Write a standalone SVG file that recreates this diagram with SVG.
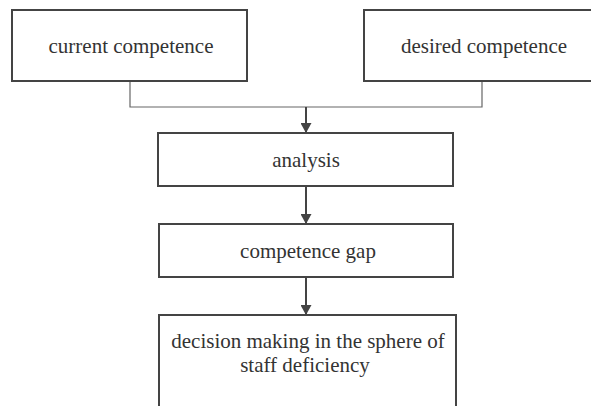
<svg xmlns="http://www.w3.org/2000/svg" width="591" height="406" viewBox="0 0 591 406">
<style>
.box{fill:#fff;stroke:#444;stroke-width:2}
.t{font-family:'Liberation Serif','DejaVu Serif',serif;font-size:21px;fill:#333;text-anchor:middle}
.thin{fill:none;stroke:#666;stroke-width:1.2}
.arr{fill:none;stroke:#444;stroke-width:2}
</style>
<defs>
<marker id="ah" markerUnits="userSpaceOnUse" markerWidth="11" markerHeight="11" refX="10" refY="5.5" orient="auto" viewBox="0 0 11 11">
<path d="M0,0 L10,5.5 L0,11 Z" fill="#444"/>
</marker>
</defs>
<rect width="591" height="406" fill="#fff"/>
<g id="connectors">
<polyline class="thin" points="130,81 130,107 482,107 482,81"/>
<line class="arr" x1="306" y1="107" x2="306" y2="133" marker-end="url(#ah)"/>
<line class="arr" x1="306" y1="186" x2="306" y2="224" marker-end="url(#ah)"/>
<line class="arr" x1="306" y1="277" x2="306" y2="315" marker-end="url(#ah)"/>
</g>
<g id="current">
<rect class="box" x="12" y="10" width="235" height="71"/>
<text class="t" x="131" y="53" font-family="Liberation Serif">current competence</text>
</g>
<g id="desired">
<rect class="box" x="364" y="10" width="240" height="71"/>
<text class="t" x="484" y="53">desired competence</text>
</g>
<g id="analysis">
<rect class="box" x="158" y="133" width="295" height="53"/>
<text class="t" x="306" y="167">analysis</text>
</g>
<g id="gap">
<rect class="box" x="159" y="224" width="294" height="53"/>
<text class="t" x="308" y="258">competence gap</text>
</g>
<g id="decision">
<rect class="box" x="159" y="315" width="297" height="110"/>
<text class="t" x="308" y="348">decision making in the sphere of</text>
<text class="t" x="305" y="372">staff deficiency</text>
</g>
</svg>
